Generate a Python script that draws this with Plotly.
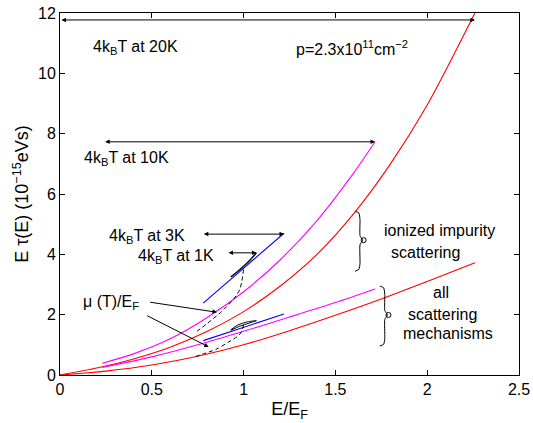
import plotly.graph_objects as go

# ---- data ----
# ionized impurity scattering (upper family)
imp_red_x = [0, 0.2, 0.4, 0.6, 0.8, 1.0, 1.2, 1.4, 1.6, 1.8, 2.0, 2.26]
imp_red_y = [0, 0.23, 0.53, 0.92, 1.44, 2.10, 2.95, 4.0, 5.35, 7.0, 8.95, 12.0]
imp_mag_x = [0.23, 0.4, 0.6, 0.8, 1.0, 1.2, 1.4, 1.6, 1.716]
imp_mag_y = [0.39, 0.70, 1.20, 1.90, 2.76, 3.82, 5.12, 6.70, 7.73]
imp_blue_x = [0.78, 1.22]
imp_blue_y = [2.38, 4.70]
imp_black_x = [0.93, 0.98, 1.03, 1.07]
imp_black_y = [3.25, 3.5, 3.78, 4.05]
imp_mu_x = [1.0, 0.99, 0.98, 0.95, 0.88, 0.80, 0.74]
imp_mu_y = [3.5, 3.1, 2.85, 2.55, 2.1, 1.7, 1.42]

# all scattering mechanisms (lower family)
all_red_x = [0, 0.25, 0.5, 0.75, 1.0, 1.25, 1.5, 1.75, 2.0, 2.26]
all_red_y = [0, 0.13, 0.33, 0.62, 1.0, 1.47, 1.98, 2.52, 3.1, 3.72]
all_mag_x = [0.23, 0.5, 0.75, 1.0, 1.25, 1.5, 1.716]
all_mag_y = [0.25, 0.6, 1.0, 1.45, 1.92, 2.4, 2.85]
all_blue_x = [0.78, 1.22]
all_blue_y = [1.14, 2.02]
all_black_x = [0.93, 0.98, 1.03, 1.07, 1.02, 0.97, 0.93]
all_black_y = [1.48, 1.62, 1.72, 1.80, 1.76, 1.66, 1.50]
all_mu_x = [1.0, 0.99, 0.975, 0.92, 0.85, 0.78, 0.737]
all_mu_y = [1.66, 1.45, 1.32, 1.10, 0.85, 0.70, 0.61]

# 4kBT arrows: (x_left, x_right, y)
kT_labels = ["20K", "10K", "3K", "1K"]
kT_left = [0.0, 0.238, 0.775, 0.91]
kT_right = [2.26, 1.716, 1.22, 1.07]
kT_y = [11.77, 7.73, 4.67, 4.05]

# braces
brace1_x = [1.607, 1.628, 1.634, 1.634, 1.648, 1.634, 1.634, 1.628, 1.607]
brace1_y = [5.43, 5.37, 5.15, 4.62, 4.47, 4.32, 3.70, 3.50, 3.44]
brace2_x = [1.742, 1.763, 1.769, 1.769, 1.783, 1.769, 1.769, 1.763, 1.742]
brace2_y = [2.95, 2.89, 2.67, 2.14, 1.99, 1.84, 1.22, 1.02, 0.96]

FONT = "Liberation Sans, Arial, Helvetica, sans-serif"
RED, MAG, BLUE = "#ff0000", "#ff00ff", "#0000ff"

fig = go.Figure()

def line(x, y, color, dash="solid", width=1.1):
    fig.add_trace(go.Scatter(x=x, y=y, mode="lines", line=dict(color=color, width=width, dash=dash, shape="spline", smoothing=0.8),
                             showlegend=False, hoverinfo="skip"))

line(imp_red_x, imp_red_y, RED)
line(imp_mag_x, imp_mag_y, MAG)
line(imp_blue_x, imp_blue_y, BLUE)
line(imp_black_x, imp_black_y, "black", width=1.4)
line(imp_mu_x, imp_mu_y, "black", dash="4px,3px", width=1)
line(all_red_x, all_red_y, RED)
line(all_mag_x, all_mag_y, MAG)
line(all_blue_x, all_blue_y, BLUE)
line(all_black_x, all_black_y, "black", width=1)
line(all_mu_x, all_mu_y, "black", dash="4px,3px", width=1)

# braces with small circles
for bx, by in [(brace1_x, brace1_y), (brace2_x, brace2_y)]:
    fig.add_trace(go.Scatter(x=bx, y=by, mode="lines", line=dict(color="black", width=1, shape="spline", smoothing=0.5),
                             showlegend=False, hoverinfo="skip"))
    fig.add_trace(go.Scatter(x=[bx[4] + 0.006], y=[by[4]], mode="markers",
                             marker=dict(symbol="circle-open", size=5, color="black", line=dict(width=1)),
                             showlegend=False, hoverinfo="skip"))

ann = []
# double-headed 4kBT arrows
for xl, xr, yy in zip(kT_left, kT_right, kT_y):
    ann.append(dict(x=xr, y=yy, ax=xl, ay=yy, xref="x", yref="y", axref="x", ayref="y", text="",
                    showarrow=True, arrowhead=2, arrowside="end+start", arrowsize=0.9, arrowwidth=1, arrowcolor="black"))

# mu(T)/E_F arrows
mu_arrow_tail = [(0.483, 2.42), (0.467, 1.99)]
mu_arrow_head = [(0.855, 2.08), (0.81, 0.93)]
for (tx, ty), (hx, hy) in zip(mu_arrow_tail, mu_arrow_head):
    ann.append(dict(x=hx, y=hy, ax=tx, ay=ty, xref="x", yref="y", axref="x", ayref="y", text="",
                    showarrow=True, arrowhead=2, arrowsize=0.9, arrowwidth=1, arrowcolor="black"))

def txt(x, y, s, size=16):
    ann.append(dict(x=x, y=y, xref="x", yref="y", text=s, showarrow=False, xanchor="center", yanchor="middle",
                    font=dict(family=FONT, size=size, color="black")))

kb = "4k<sub>B</sub>T at "
txt(0.41, 10.85, kb + kT_labels[0])
txt(0.36, 7.18, kb + kT_labels[1])
txt(0.475, 4.60, kb + kT_labels[2])
txt(0.63, 3.94, kb + kT_labels[3])
txt(1.588, 10.85, "p=2.3x10<sup>11</sup>cm<sup>\u22122</sup>")
txt(0.276, 2.42, "\u03bc (T)/E<sub>F</sub>")
txt(2.069, 4.80, "ionized impurity")
txt(1.993, 4.07, "scattering")
txt(2.074, 2.72, "all")
txt(2.085, 1.99, "scattering")
txt(2.112, 1.39, "mechanisms")

axis_common = dict(showline=True, linecolor="black", linewidth=1, mirror="ticks", ticks="inside", ticklen=5,
                   tickcolor="black", showgrid=False, zeroline=False, automargin=False,
                   tickfont=dict(family=FONT, size=16, color="black"))

fig.update_layout(
    width=533, height=423,
    margin=dict(l=60, r=14, t=13, b=48),
    paper_bgcolor="white", plot_bgcolor="white",
    xaxis=dict(range=[0, 2.5], tickmode="array", tickvals=[0, 0.5, 1, 1.5, 2, 2.5],
               ticktext=["0", "0.5", "1", "1.5", "2", "2.5"],
               title=dict(text="E/E<sub>F</sub>", font=dict(family=FONT, size=18, color="black"), standoff=5),
               **axis_common),
    yaxis=dict(range=[0, 12], tickmode="array", tickvals=[0, 2, 4, 6, 8, 10, 12],
               title=dict(text="E \u03c4(E) (10<sup>\u221215</sup>eVs)", font=dict(family=FONT, size=18, color="black"), standoff=4),
               **axis_common),
    annotations=ann,
)

fig.write_html("out.html", config={"displayModeBar": False},
               post_script="document.body.style.margin='0';document.body.style.overflow='hidden';")
